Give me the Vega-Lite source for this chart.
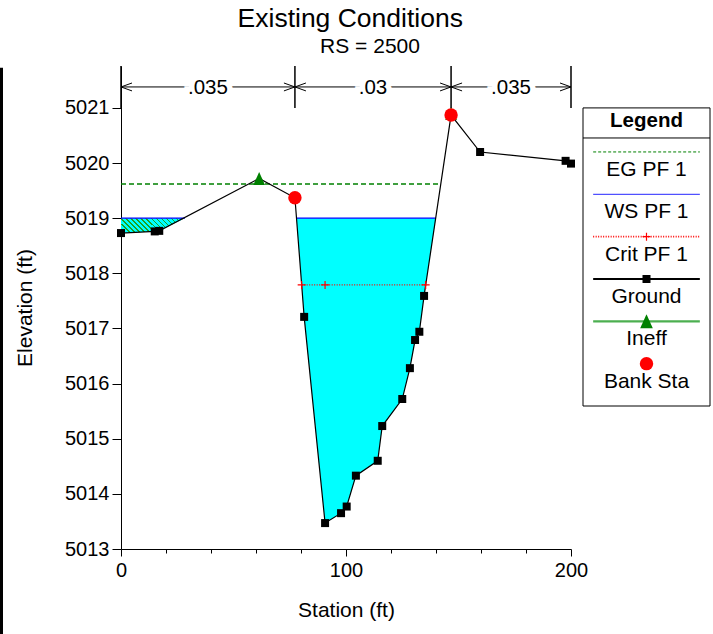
{
  "$schema": "https://vega.github.io/schema/vega-lite/v6.json",
  "config": {
    "font": "Liberation Sans",
    "view": {"stroke": null},
    "axis": {"domainColor": "black", "tickColor": "black", "labelColor": "black", "titleColor": "black", "grid": false, "titleFontWeight": "normal", "labelFlush": false, "labelOverlap": false}
  },
  "padding": {"left": 0, "top": 5, "right": 0, "bottom": 5},
  "title": {"text": "Existing Conditions", "fontSize": 26.5, "fontWeight": "normal", "color": "black", "anchor": "middle", "offset": 4, "dx": -5},
  "bounds": "flush",
  "spacing": 12,
  "resolve": {"scale": {"x": "independent", "y": "independent", "color": "independent", "strokeDash": "independent", "shape": "independent", "strokeWidth": "independent"}},
  "datasets": {
    "ground": [
      {"sta": 0, "elev": 5018.73}, {"sta": 15, "elev": 5018.76}, {"sta": 17, "elev": 5018.77},
      {"sta": 61.4, "elev": 5019.72}, {"sta": 77.3, "elev": 5019.37}, {"sta": 81.4, "elev": 5017.21},
      {"sta": 90.7, "elev": 5013.47}, {"sta": 97.8, "elev": 5013.65}, {"sta": 100.3, "elev": 5013.77},
      {"sta": 104.4, "elev": 5014.33}, {"sta": 114.1, "elev": 5014.6}, {"sta": 116.1, "elev": 5015.23},
      {"sta": 125.0, "elev": 5015.72}, {"sta": 128.4, "elev": 5016.28}, {"sta": 130.7, "elev": 5016.79},
      {"sta": 132.6, "elev": 5016.94}, {"sta": 134.7, "elev": 5017.59}, {"sta": 146.7, "elev": 5020.87},
      {"sta": 159.6, "elev": 5020.2}, {"sta": 197.6, "elev": 5020.04}, {"sta": 200, "elev": 5019.99}
    ],
    "leftfill": [
      {"sta": 0, "elev": 5018.73}, {"sta": 15, "elev": 5018.76}, {"sta": 17, "elev": 5018.77}, {"sta": 28.4, "elev": 5019.0}
    ],
    "chanfill": [
      {"sta": 78.0, "elev": 5019.0}, {"sta": 81.4, "elev": 5017.21}, {"sta": 90.7, "elev": 5013.47},
      {"sta": 97.8, "elev": 5013.65}, {"sta": 100.3, "elev": 5013.77}, {"sta": 104.4, "elev": 5014.33},
      {"sta": 114.1, "elev": 5014.6}, {"sta": 116.1, "elev": 5015.23}, {"sta": 125.0, "elev": 5015.72},
      {"sta": 128.4, "elev": 5016.28}, {"sta": 130.7, "elev": 5016.79}, {"sta": 132.6, "elev": 5016.94},
      {"sta": 134.7, "elev": 5017.59}, {"sta": 139.9, "elev": 5019.0}
    ],
    "profiles": [
      {"profile": "EG PF 1", "part": "eg", "sta": 0, "elev": 5019.62},
      {"profile": "EG PF 1", "part": "eg", "sta": 142.1, "elev": 5019.62},
      {"profile": "WS PF 1", "part": "wsl", "sta": 0, "elev": 5019.0},
      {"profile": "WS PF 1", "part": "wsl", "sta": 28.4, "elev": 5019.0},
      {"profile": "WS PF 1", "part": "wsm", "sta": 78.0, "elev": 5019.0},
      {"profile": "WS PF 1", "part": "wsm", "sta": 139.9, "elev": 5019.0},
      {"profile": "Crit PF 1", "part": "cr", "sta": 80.3, "elev": 5017.79},
      {"profile": "Crit PF 1", "part": "cr", "sta": 135.4, "elev": 5017.79}
    ],
    "crit": [{"sta": 80.3, "elev": 5017.79}, {"sta": 90.7, "elev": 5017.79}, {"sta": 135.4, "elev": 5017.79}],
    "ineff": [{"sta": 61.4, "elev": 5019.72}, {"sta": 146.7, "elev": 5020.9}],
    "bank": [{"sta": 77.3, "elev": 5019.37}, {"sta": 146.7, "elev": 5020.87}],
    "nbounds": [{"sta": 0}, {"sta": 77.3}, {"sta": 146.7}, {"sta": 200}],
    "nseg": [
      {"sta": 0, "sta2": 77.3, "n": ".035"},
      {"sta": 77.3, "sta2": 146.7, "n": ".03"},
      {"sta": 146.7, "sta2": 200, "n": ".035"}
    ],
    "arrows": [
      {"sta": 0, "dir": "L"}, {"sta": 77.3, "dir": "R"}, {"sta": 77.3, "dir": "L"},
      {"sta": 146.7, "dir": "R"}, {"sta": 146.7, "dir": "L"}, {"sta": 200, "dir": "R"}
    ],
    "legend": [
      {"name": "EG PF 1", "i": 1}, {"name": "WS PF 1", "i": 2}, {"name": "Crit PF 1", "i": 3},
      {"name": "Ground", "i": 4}, {"name": "Ineff", "i": 5}, {"name": "Bank Sta", "i": 6}
    ]
  },
  "hconcat": [
    {
      "width": 450,
      "height": 483,
      "title": {"text": "RS = 2500", "fontSize": 21, "fontWeight": "normal", "color": "black", "dx": 24, "offset": 8},
      "layer": [
        {
          "data": {"name": "leftfill"},
          "mark": {"type": "area", "line": false, "fill": {"gradient": "linear", "x1": 0, "y1": 1, "x2": 1.2, "y2": 0.719, "stops": [
            {"offset": 0, "color": "#00ffff"},
            {"offset": 0.046, "color": "#00ffff"}, {"offset": 0.046, "color": "#1f9f1f"}, {"offset": 0.0625, "color": "#1f9f1f"}, {"offset": 0.0625, "color": "#00ffff"},
            {"offset": 0.1085, "color": "#00ffff"}, {"offset": 0.1085, "color": "#1f9f1f"}, {"offset": 0.125, "color": "#1f9f1f"}, {"offset": 0.125, "color": "#00ffff"},
            {"offset": 0.171, "color": "#00ffff"}, {"offset": 0.171, "color": "#1f9f1f"}, {"offset": 0.1875, "color": "#1f9f1f"}, {"offset": 0.1875, "color": "#00ffff"},
            {"offset": 0.2335, "color": "#00ffff"}, {"offset": 0.2335, "color": "#1f9f1f"}, {"offset": 0.25, "color": "#1f9f1f"}, {"offset": 0.25, "color": "#00ffff"},
            {"offset": 0.296, "color": "#00ffff"}, {"offset": 0.296, "color": "#1f9f1f"}, {"offset": 0.3125, "color": "#1f9f1f"}, {"offset": 0.3125, "color": "#00ffff"},
            {"offset": 0.3585, "color": "#00ffff"}, {"offset": 0.3585, "color": "#1f9f1f"}, {"offset": 0.375, "color": "#1f9f1f"}, {"offset": 0.375, "color": "#00ffff"},
            {"offset": 0.421, "color": "#00ffff"}, {"offset": 0.421, "color": "#1f9f1f"}, {"offset": 0.4375, "color": "#1f9f1f"}, {"offset": 0.4375, "color": "#00ffff"},
            {"offset": 0.4835, "color": "#00ffff"}, {"offset": 0.4835, "color": "#1f9f1f"}, {"offset": 0.5, "color": "#1f9f1f"}, {"offset": 0.5, "color": "#00ffff"},
            {"offset": 0.546, "color": "#00ffff"}, {"offset": 0.546, "color": "#1f9f1f"}, {"offset": 0.5625, "color": "#1f9f1f"}, {"offset": 0.5625, "color": "#00ffff"},
            {"offset": 0.6085, "color": "#00ffff"}, {"offset": 0.6085, "color": "#1f9f1f"}, {"offset": 0.625, "color": "#1f9f1f"}, {"offset": 0.625, "color": "#00ffff"},
            {"offset": 0.671, "color": "#00ffff"}, {"offset": 0.671, "color": "#1f9f1f"}, {"offset": 0.6875, "color": "#1f9f1f"}, {"offset": 0.6875, "color": "#00ffff"},
            {"offset": 0.7335, "color": "#00ffff"}, {"offset": 0.7335, "color": "#1f9f1f"}, {"offset": 0.75, "color": "#1f9f1f"}, {"offset": 0.75, "color": "#00ffff"},
            {"offset": 0.796, "color": "#00ffff"}, {"offset": 0.796, "color": "#1f9f1f"}, {"offset": 0.8125, "color": "#1f9f1f"}, {"offset": 0.8125, "color": "#00ffff"},
            {"offset": 0.8585, "color": "#00ffff"}, {"offset": 0.8585, "color": "#1f9f1f"}, {"offset": 0.875, "color": "#1f9f1f"}, {"offset": 0.875, "color": "#00ffff"},
            {"offset": 0.921, "color": "#00ffff"}, {"offset": 0.921, "color": "#1f9f1f"}, {"offset": 0.9375, "color": "#1f9f1f"}, {"offset": 0.9375, "color": "#00ffff"},
            {"offset": 0.9835, "color": "#00ffff"}, {"offset": 0.9835, "color": "#1f9f1f"}, {"offset": 1, "color": "#1f9f1f"}
          ]}},
          "encoding": {
            "x": {"field": "sta", "type": "quantitative",
              "scale": {"domain": [0, 200], "nice": false, "zero": false},
              "axis": {"title": "Station (ft)", "values": [0, 10, 20, 30, 40, 50, 60, 70, 80, 90, 100, 110, 120, 130, 140, 150, 160, 170, 180, 190, 200],
                "labelExpr": "datum.value % 50 === 0 ? datum.label : ''",
                "tickSize": {"condition": {"test": "datum.value % 50 === 0", "value": 7}, "value": 4},
                "labelFontSize": 20, "labelPadding": 4, "titleFontSize": 21, "titlePadding": 19}},
            "y": {"field": "elev", "type": "quantitative",
              "scale": {"domain": [5013, 5021.76], "nice": false, "zero": false},
              "axis": {"title": "Elevation (ft)", "format": "d",
                "values": [5013, 5013.5, 5014, 5014.5, 5015, 5015.5, 5016, 5016.5, 5017, 5017.5, 5018, 5018.5, 5019, 5019.5, 5020, 5020.5, 5021, 5021.5],
                "labelExpr": "datum.value % 1 === 0 ? datum.label : ''",
                "tickSize": {"condition": {"test": "datum.value % 1 === 0", "value": 9}, "value": 5},
                "labelFontSize": 20, "labelPadding": 3, "titleFontSize": 21, "titlePadding": 29}},
            "y2": {"datum": 5019}
          }
        },
        {
          "data": {"values": [{"frame": "left"}]},
          "mark": {"type": "rule", "color": "black", "strokeWidth": 3},
          "encoding": {
            "x": {"datum": -53.11, "type": "quantitative"},
            "y": {"datum": 5021.73, "type": "quantitative"},
            "y2": {"datum": 5011.4}
          }
        },
        {
          "data": {"name": "chanfill"},
          "mark": {"type": "area", "fill": "#00ffff", "opacity": 1},
          "encoding": {
            "x": {"field": "sta", "type": "quantitative"},
            "y": {"field": "elev", "type": "quantitative"},
            "y2": {"datum": 5019}
          }
        },
        {
          "data": {"name": "profiles"},
          "mark": {"type": "line", "strokeWidth": 1.3},
          "encoding": {
            "x": {"field": "sta", "type": "quantitative"},
            "y": {"field": "elev", "type": "quantitative"},
            "detail": {"field": "part"},
            "color": {"field": "profile", "type": "nominal", "legend": null,
              "scale": {"domain": ["EG PF 1", "WS PF 1", "Crit PF 1"], "range": ["#008000", "#0000ff", "#ff0000"]}},
            "strokeDash": {"field": "profile", "type": "nominal", "legend": null,
              "scale": {"domain": ["EG PF 1", "WS PF 1", "Crit PF 1"], "range": [[5, 3], [1, 0], [1, 1.5]]}}
          }
        },
        {
          "data": {"name": "ground"},
          "mark": {"type": "line", "color": "black", "strokeWidth": 1.2},
          "encoding": {
            "x": {"field": "sta", "type": "quantitative"},
            "y": {"field": "elev", "type": "quantitative"}
          }
        },
        {
          "data": {"name": "ground"},
          "transform": [{"filter": "datum.sta !== 61.4"}],
          "mark": {"type": "point", "shape": "square", "filled": true, "color": "black", "opacity": 1, "size": 64},
          "encoding": {
            "x": {"field": "sta", "type": "quantitative"},
            "y": {"field": "elev", "type": "quantitative"}
          }
        },
        {
          "data": {"name": "crit"},
          "mark": {"type": "point", "shape": "M-1,0L1,0M0,-1L0,1", "filled": false, "color": "#ff0000", "opacity": 1, "size": 64, "strokeWidth": 1.2},
          "encoding": {
            "x": {"field": "sta", "type": "quantitative"},
            "y": {"field": "elev", "type": "quantitative"}
          }
        },
        {
          "data": {"name": "ineff"},
          "mark": {"type": "point", "shape": "M0,-1L-0.9,1L0.9,1Z", "filled": true, "color": "#008000", "opacity": 1, "size": 169},
          "encoding": {
            "x": {"field": "sta", "type": "quantitative"},
            "y": {"field": "elev", "type": "quantitative"}
          }
        },
        {
          "data": {"name": "bank"},
          "mark": {"type": "point", "shape": "circle", "filled": true, "color": "#ff0000", "opacity": 1, "size": 180},
          "encoding": {
            "x": {"field": "sta", "type": "quantitative"},
            "y": {"field": "elev", "type": "quantitative"}
          }
        },
        {
          "data": {"name": "nbounds"},
          "mark": {"type": "rule", "color": "black", "strokeWidth": 1.5},
          "encoding": {
            "x": {"field": "sta", "type": "quantitative"},
            "y": {"datum": 5021.0},
            "y2": {"datum": 5021.76}
          }
        },
        {
          "data": {"name": "nseg"},
          "mark": {"type": "rule", "color": "black", "strokeWidth": 1},
          "encoding": {
            "x": {"field": "sta", "type": "quantitative"},
            "x2": {"field": "sta2"},
            "y": {"datum": 5021.38}
          }
        },
        {
          "data": {"name": "arrows"},
          "mark": {"type": "point", "filled": false, "color": "black", "opacity": 1, "size": 484, "strokeWidth": 1},
          "encoding": {
            "x": {"field": "sta", "type": "quantitative"},
            "y": {"datum": 5021.38},
            "shape": {"field": "dir", "type": "nominal", "legend": null,
              "scale": {"domain": ["L", "R"], "range": ["M1,-0.36L0,0L1,0.36", "M-1,-0.36L0,0L-1,0.36"]}}
          }
        },
        {
          "data": {"name": "nseg"},
          "transform": [{"calculate": "(datum.sta + datum.sta2) / 2", "as": "mid"}],
          "mark": {"type": "text", "fontSize": 20.5, "fill": "white", "stroke": "white", "strokeWidth": 11, "baseline": "middle", "dy": 1},
          "encoding": {
            "x": {"field": "mid", "type": "quantitative"},
            "y": {"datum": 5021.38},
            "text": {"field": "n"}
          }
        },
        {
          "data": {"name": "nseg"},
          "transform": [{"calculate": "(datum.sta + datum.sta2) / 2", "as": "mid"}],
          "mark": {"type": "text", "fontSize": 20.5, "color": "black", "baseline": "middle", "dy": 1},
          "encoding": {
            "x": {"field": "mid", "type": "quantitative"},
            "y": {"datum": 5021.38},
            "text": {"field": "n"}
          }
        }
      ]
    },
    {
      "width": 127,
      "height": 340,
      "layer": [
        {
          "data": {"values": [{"box": 1}]},
          "mark": {"type": "rect", "fill": "white", "stroke": "black", "strokeWidth": 1},
          "encoding": {
            "x": {"datum": 0, "type": "quantitative", "scale": {"domain": [0, 1], "nice": false, "zero": false}, "axis": null},
            "x2": {"datum": 1},
            "y": {"datum": -0.04, "type": "quantitative", "scale": {"domain": [-1.03, 7], "nice": false, "zero": false, "reverse": true}, "axis": null},
            "y2": {"datum": 7}
          }
        },
        {
          "data": {"values": [{"box": 1}]},
          "mark": {"type": "rule", "color": "black", "strokeWidth": 1},
          "encoding": {
            "x": {"datum": 0, "type": "quantitative"},
            "x2": {"datum": 1},
            "y": {"datum": 0.67, "type": "quantitative"}
          }
        },
        {
          "data": {"values": [{"t": "Legend"}]},
          "mark": {"type": "text", "fontSize": 20.5, "fontWeight": "bold", "color": "black", "baseline": "middle"},
          "encoding": {
            "x": {"datum": 0.5, "type": "quantitative"},
            "y": {"datum": 0.27, "type": "quantitative"},
            "text": {"field": "t"}
          }
        },
        {
          "data": {"name": "legend"},
          "transform": [{"filter": "datum.i <= 5"}],
          "mark": {"type": "rule"},
          "encoding": {
            "x": {"datum": 0.08, "type": "quantitative"},
            "x2": {"datum": 0.92},
            "y": {"field": "i", "type": "quantitative"},
            "color": {"field": "name", "type": "nominal", "legend": null,
              "scale": {"domain": ["EG PF 1", "WS PF 1", "Crit PF 1", "Ground", "Ineff"], "range": ["#008000", "#5050ff", "#ff0000", "#000000", "#4caf50"]}},
            "strokeDash": {"field": "name", "type": "nominal", "legend": null,
              "scale": {"domain": ["EG PF 1", "WS PF 1", "Crit PF 1", "Ground", "Ineff"], "range": [[3, 2], [1, 0], [1, 1.5], [1, 0], [1, 0]]}},
            "strokeWidth": {"field": "name", "type": "ordinal", "legend": null,
              "scale": {"domain": ["EG PF 1", "WS PF 1", "Crit PF 1", "Ground", "Ineff"], "range": [1, 2.2, 1, 1.3, 2]}}
          }
        },
        {
          "data": {"name": "legend"},
          "transform": [{"filter": "datum.name === 'Crit PF 1'"}],
          "mark": {"type": "point", "shape": "M-1,0L1,0M0,-1L0,1", "filled": false, "color": "#ff0000", "opacity": 1, "size": 64, "strokeWidth": 1.2},
          "encoding": {
            "x": {"datum": 0.5, "type": "quantitative"},
            "y": {"field": "i", "type": "quantitative"}
          }
        },
        {
          "data": {"name": "legend"},
          "transform": [{"filter": "datum.name === 'Ground'"}],
          "mark": {"type": "point", "shape": "square", "filled": true, "color": "black", "opacity": 1, "size": 64},
          "encoding": {
            "x": {"datum": 0.5, "type": "quantitative"},
            "y": {"field": "i", "type": "quantitative"}
          }
        },
        {
          "data": {"name": "legend"},
          "transform": [{"filter": "datum.name === 'Ineff'"}],
          "mark": {"type": "point", "shape": "M0,-1L-0.9,1L0.9,1Z", "filled": true, "color": "#008000", "opacity": 1, "size": 196},
          "encoding": {
            "x": {"datum": 0.5, "type": "quantitative"},
            "y": {"field": "i", "type": "quantitative"}
          }
        },
        {
          "data": {"name": "legend"},
          "transform": [{"filter": "datum.name === 'Bank Sta'"}],
          "mark": {"type": "point", "shape": "circle", "filled": true, "color": "#ff0000", "opacity": 1, "size": 180},
          "encoding": {
            "x": {"datum": 0.5, "type": "quantitative"},
            "y": {"field": "i", "type": "quantitative"}
          }
        },
        {
          "data": {"name": "legend"},
          "mark": {"type": "text", "fontSize": 21, "color": "black", "baseline": "middle", "dy": 18},
          "encoding": {
            "x": {"datum": 0.5, "type": "quantitative"},
            "y": {"field": "i", "type": "quantitative"},
            "text": {"field": "name"}
          }
        }
      ]
    }
  ]
}
